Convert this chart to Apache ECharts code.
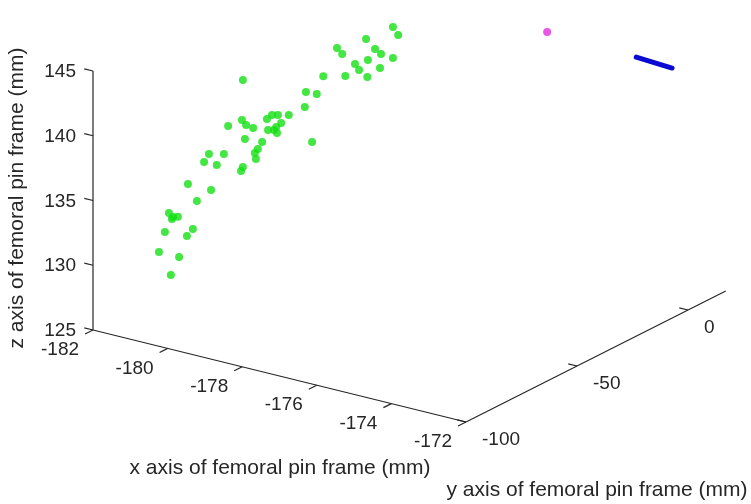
<!DOCTYPE html>
<html>
<head>
<meta charset="utf-8">
<script src="https://cdn.jsdelivr.net/npm/echarts@6/dist/echarts.min.js"></script>
<style>
  html, body { margin: 0; padding: 0; background: #ffffff; }
  #chart { width: 751px; height: 504px; }
</style>
</head>
<body>
<div id="chart"></div>
<script>
// Tracked marker positions in the femoral pin frame (mm)
const greenX = [-178.72, -178.58, -179.44, -180.22, -180.08, -179.20, -179.04, -179.39, -178.72,
  -179.44, -179.33, -178.77, -179.11, -179.70, -180.29,
  -181.85, -180.16, -179.87, -180.19, -180.62, -180.91, -181.07,
  -180.61, -181.28, -181.17, -180.98, -181.65, -180.36, -180.58, -180.42, -180.34, -180.23, -181.20, -179.40, -180.74,
  -180.26, -180.34, -180.31, -181.57, -181.17, -181.70, -181.36, -180.66, -180.71,
  -181.24, -180.62, -181.00, -181.75, -181.64, -181.51, -181.67,
  -181.56, -180.81, -180.97, -181.72, -181.18, -181.40];
const greenY = [-20, -20, -20, -20, -20, -20, -20, -20, -20,
  -25, -25, -25, -25, -25, -25,
  -35, -35, -35, -35, -35, -35, -35,
  -45, -45, -45, -45, -45, -45, -45, -45, -45, -45, -45, -45, -45,
  -55, -55, -55, -55, -55, -55, -55, -55, -55,
  -70, -70, -70, -70, -70, -70, -70,
  -75, -75, -75, -75, -75, -75];
const greenZ = [143.81, 143.29, 142.37, 141.12, 140.75, 141.77, 141.50, 140.79, 141.42,
  140.87, 140.48, 141.04, 140.10, 139.76, 139.33,
  138.79, 139.06, 139.12, 137.89, 136.96, 136.75, 136.65,
  137.53, 136.98, 136.66, 136.57, 136.24, 137.08, 136.70, 136.81, 136.64, 137.49, 135.56, 136.61, 135.66,
  136.32, 135.96, 135.51, 135.00, 135.29, 134.29, 134.30, 134.64, 134.30,
  134.22, 134.20, 133.08, 131.62, 131.39, 131.49, 131.22,
  130.72, 131.49, 130.83, 129.06, 129.05, 127.51];

// Pin tip point and pin segment
const tipPoint = [-175.30, -8, 144.81];
const pinX = [-174.28, -173.32];
const pinY = [15, 15];
const pinZ = [141.61, 141.45];

// Axis limits and ticks
const xLim = [-182, -172];
const yLim = [-100, 17];
const zLim = [125, 145];
const xTicks = [-182, -180, -178, -176, -174, -172];
const yTicks = [-100, -50, 0];
const zTicks = [125, 130, 135, 140, 145];

const xTitle = 'x axis of femoral pin frame (mm)';
const yTitle = 'y axis of femoral pin frame (mm)';
const zTitle = 'z axis of femoral pin frame (mm)';

// Orthographic view: where the box corner lands on the view plane and how
// one millimetre along each axis moves on that plane.
const VIEW_ORIGIN = [93, 330];
const X_DIR = [37.3, 9.2];
const Y_DIR = [2.22, -1.12];
const Z_DIR = [0, -12.95];

function proj(x, y, z) {
  const a = x - xLim[0], b = y - yLim[0], c = z - zLim[0];
  return [
    VIEW_ORIGIN[0] + a * X_DIR[0] + b * Y_DIR[0] + c * Z_DIR[0],
    VIEW_ORIGIN[1] + a * X_DIR[1] + b * Y_DIR[1] + c * Z_DIR[1]
  ];
}

const AXIS_COLOR = '#262626';
const FONT = '"Liberation Sans", Arial, Helvetica, sans-serif';

// Axis lines and tick marks as plane segments
const segments = [];
function seg(p, q) { segments.push([p[0], p[1], q[0], q[1]]); }
seg(proj(xLim[0], yLim[0], zLim[0]), proj(xLim[0], yLim[0], zLim[1]));
seg(proj(xLim[0], yLim[0], zLim[0]), proj(xLim[1], yLim[0], zLim[0]));
seg(proj(xLim[1], yLim[0], zLim[0]), proj(xLim[1], yLim[1], zLim[0]));
const tickX = 0.234, tickY = 3.6;
zTicks.forEach(t => seg(proj(xLim[0], yLim[0], t), proj(xLim[0] - tickX, yLim[0], t)));
xTicks.forEach(t => seg(proj(t, yLim[0], zLim[0]), proj(t, yLim[0] - tickY, zLim[0])));
yTicks.forEach(t => seg(proj(xLim[1], t, zLim[0]), proj(xLim[1] - tickX, t, zLim[0])));

// Tick labels
const labelPos = [];
const labelInfo = [];
zTicks.forEach(t => {
  labelPos.push(proj(xLim[0], yLim[0], t));
  labelInfo.push({ text: String(t), align: 'right', dx: -17, dy: 1 });
});
xTicks.forEach(t => {
  labelPos.push(proj(t, yLim[0], zLim[0]));
  labelInfo.push({ text: String(t), align: 'center', dx: -33, dy: 20 });
});
yTicks.forEach(t => {
  labelPos.push(proj(xLim[1], t, zLim[0]));
  labelInfo.push({ text: String(t), align: 'left', dx: 16, dy: 18 });
});

const greenData = greenX.map((x, i) => proj(x, greenY[i], greenZ[i]));
const tipData = [proj(tipPoint[0], tipPoint[1], tipPoint[2])];
const pinData = pinX.map((x, i) => proj(x, pinY[i], pinZ[i]));

const chart = echarts.init(document.getElementById('chart'), null, { renderer: 'canvas' });
chart.setOption({
  animation: false,
  backgroundColor: '#ffffff',
  grid: { left: 0, top: 0, right: 0, bottom: 0, containLabel: false },
  xAxis: { type: 'value', min: 0, max: 751, show: false },
  yAxis: { type: 'value', min: 0, max: 504, inverse: true, show: false },
  series: [
    {
      type: 'custom',
      name: 'axes',
      silent: true,
      encode: { x: [0, 2], y: [1, 3] },
      data: segments,
      renderItem: function (params, api) {
        const p = api.coord([api.value(0), api.value(1)]);
        const q = api.coord([api.value(2), api.value(3)]);
        return {
          type: 'line',
          shape: { x1: p[0], y1: p[1], x2: q[0], y2: q[1] },
          style: { stroke: AXIS_COLOR, lineWidth: 1.2 }
        };
      }
    },
    {
      type: 'custom',
      name: 'tickLabels',
      silent: true,
      data: labelPos,
      renderItem: function (params, api) {
        const info = labelInfo[params.dataIndex];
        const p = api.coord([api.value(0), api.value(1)]);
        return {
          type: 'text',
          x: p[0] + info.dx,
          y: p[1] + info.dy,
          style: {
            text: info.text,
            fill: AXIS_COLOR,
            font: '19px ' + FONT,
            align: info.align,
            verticalAlign: 'middle'
          }
        };
      }
    },
    {
      type: 'scatter',
      name: 'markers',
      silent: true,
      symbol: 'circle',
      symbolSize: 8,
      itemStyle: { color: '#14e014' },
      data: greenData
    },
    {
      type: 'scatter',
      name: 'tip',
      silent: true,
      symbol: 'circle',
      symbolSize: 8,
      itemStyle: { color: '#e030e0' },
      data: tipData
    },
    {
      type: 'line',
      name: 'pin',
      silent: true,
      symbol: 'none',
      lineStyle: { color: '#0a0ad2', width: 5, cap: 'round' },
      data: pinData
    }
  ],
  graphic: [
    {
      type: 'text', x: 280, y: 468, silent: true,
      style: { text: xTitle, fill: AXIS_COLOR, font: '21px ' + FONT, align: 'center', verticalAlign: 'middle' }
    },
    {
      type: 'text', x: 597, y: 490, silent: true,
      style: { text: yTitle, fill: AXIS_COLOR, font: '21px ' + FONT, align: 'center', verticalAlign: 'middle' }
    },
    {
      type: 'text', x: 17, y: 198, rotation: Math.PI / 2, silent: true,
      style: { text: zTitle, fill: AXIS_COLOR, font: '21px ' + FONT, align: 'center', verticalAlign: 'middle' }
    }
  ]
});
</script>
</body>
</html>
